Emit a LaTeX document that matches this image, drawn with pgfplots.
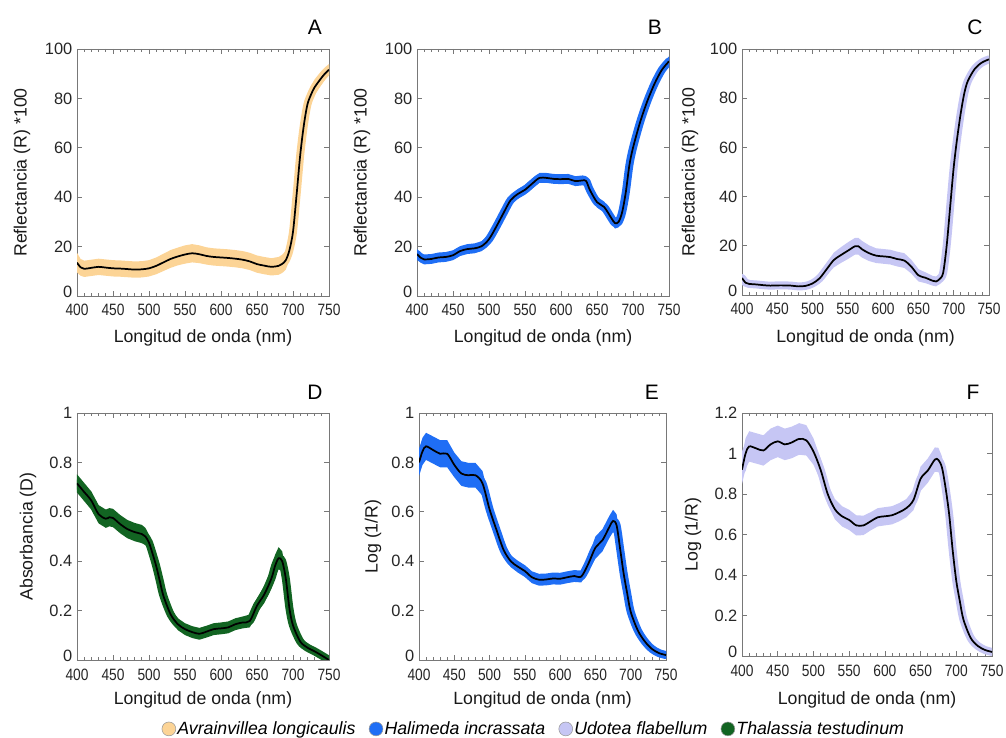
\documentclass[border=0pt]{standalone}
\usepackage{fontspec}
\setmainfont{Liberation Sans}
\usepackage{graphicx}
\usepackage{pgfplots}
\usepackage{pgfplotstable}
\pgfplotsset{compat=1.18}

\definecolor{avra}{RGB}{252,212,150}
\definecolor{hali}{RGB}{31,110,245}
\definecolor{udot}{RGB}{198,198,244}
\definecolor{thal}{RGB}{18,100,34}
\definecolor{axisgray}{RGB}{120,120,120}

% reflectance R*100: wavelength, mean, spread
\pgfplotstableread{
x m s
400 13.5 4.0
405 11.6 3.4
410 11.0 3.3
420 11.4 3.3
430 11.8 3.3
440 11.5 3.3
450 11.2 3.3
460 11.1 3.3
470 10.9 3.3
480 10.7 3.3
490 10.8 3.3
500 11.2 3.3
510 12.2 3.4
520 13.6 3.5
530 15.0 3.6
540 16.0 3.6
550 16.8 3.7
560 17.3 3.7
570 16.9 3.6
580 16.2 3.5
590 15.8 3.5
600 15.6 3.5
610 15.4 3.5
620 15.1 3.5
630 14.7 3.5
640 14.0 3.5
650 12.9 3.5
660 12.3 3.5
670 11.8 3.5
680 12.2 3.6
685 13.0 3.7
690 14.5 3.8
695 18.5 4.0
700 26.0 4.0
705 41.0 4.0
710 57.0 4.0
715 69.0 4.0
720 77.5 3.8
725 81.5 3.5
730 84.5 3.2
740 88.5 2.8
745 90.2 2.5
750 91.6 2.3
}\tabA

\pgfplotstableread{
x m s
400 17.0 2.0
405 15.5 2.0
410 14.8 2.0
420 15.0 2.0
430 15.6 2.0
440 15.8 2.0
450 16.5 2.0
460 18.2 2.0
470 19.0 2.0
480 19.3 2.0
490 20.2 2.0
500 23.0 2.0
510 28.0 2.0
520 33.5 2.0
530 38.8 2.0
540 41.3 2.0
550 43.0 2.0
560 45.5 2.0
570 47.8 2.0
580 47.8 2.0
590 47.4 2.0
600 47.3 2.0
610 47.4 2.0
620 46.5 2.0
630 46.8 2.0
635 46.5 2.0
640 43.0 2.0
650 38.0 2.2
660 36.0 2.2
670 31.5 2.2
675 29.5 2.2
680 30.0 2.2
685 34.0 2.0
690 42.0 2.0
695 53.0 2.0
700 60.0 2.0
710 70.5 2.0
720 79.0 2.0
730 86.0 2.0
740 91.5 2.0
750 95.0 2.0
}\tabB

\pgfplotstableread{
x m s
400 6.9 1.0
405 5.0 0.8
410 4.5 0.8
420 4.3 0.8
430 4.0 0.8
440 3.8 0.8
450 3.9 0.8
460 3.9 0.8
470 3.8 0.8
480 3.5 0.8
490 3.7 1.0
500 4.7 1.5
510 6.8 2.0
520 10.5 2.5
530 14.2 3.0
540 16.2 3.2
550 18.0 3.4
560 19.8 3.4
565 19.8 3.4
570 18.6 3.4
580 17.0 3.2
590 16.0 3.0
600 15.7 3.0
610 15.4 3.0
620 14.6 3.0
630 14.0 3.0
640 11.5 2.8
650 8.0 2.5
660 7.0 2.2
670 5.8 2.0
675 5.5 2.0
680 6.5 2.0
685 9.0 2.0
690 20.0 2.0
695 36.0 2.0
700 52.0 2.0
705 64.0 2.0
710 74.0 2.0
715 82.0 2.0
720 87.0 1.8
730 92.0 1.5
740 94.5 1.2
750 95.8 1.0
}\tabC

% absorbance and log(1/R)
\pgfplotstableread{
x m s
400 0.715 0.037
410 0.680 0.037
420 0.645 0.037
430 0.590 0.037
440 0.572 0.037
445 0.578 0.037
450 0.575 0.037
460 0.550 0.037
470 0.530 0.037
480 0.518 0.037
490 0.510 0.037
495 0.500 0.035
500 0.475 0.032
505 0.430 0.030
510 0.380 0.028
515 0.320 0.026
520 0.260 0.025
530 0.185 0.024
540 0.145 0.024
550 0.125 0.024
560 0.113 0.024
570 0.106 0.024
580 0.115 0.024
590 0.125 0.024
600 0.128 0.024
610 0.132 0.024
620 0.145 0.024
630 0.152 0.024
640 0.158 0.026
650 0.220 0.030
660 0.265 0.035
670 0.330 0.040
675 0.380 0.045
680 0.412 0.045
685 0.400 0.040
690 0.330 0.030
695 0.210 0.020
700 0.140 0.015
710 0.075 0.012
720 0.050 0.010
730 0.035 0.010
740 0.018 0.010
750 0.000 0.010
}\tabD

\pgfplotstableread{
x m s
400 0.800 0.055
405 0.845 0.055
410 0.865 0.055
420 0.850 0.055
430 0.835 0.055
440 0.835 0.055
450 0.790 0.050
460 0.755 0.050
470 0.748 0.050
480 0.748 0.050
490 0.715 0.050
500 0.610 0.040
510 0.525 0.035
520 0.445 0.030
530 0.400 0.024
540 0.378 0.024
550 0.360 0.024
560 0.335 0.024
570 0.325 0.024
580 0.326 0.024
590 0.330 0.024
600 0.329 0.024
610 0.335 0.024
620 0.340 0.024
630 0.338 0.024
640 0.390 0.030
650 0.455 0.045
660 0.485 0.045
670 0.540 0.045
675 0.563 0.045
680 0.545 0.045
685 0.450 0.035
690 0.350 0.030
695 0.270 0.020
700 0.195 0.015
710 0.120 0.015
720 0.075 0.015
730 0.045 0.015
740 0.028 0.015
750 0.020 0.015
}\tabE

\pgfplotstableread{
x m s
400 0.920 0.070
405 1.000 0.075
410 1.035 0.075
420 1.025 0.075
430 1.015 0.075
440 1.045 0.078
450 1.060 0.078
460 1.045 0.078
470 1.055 0.078
480 1.072 0.078
490 1.065 0.075
500 1.010 0.065
510 0.920 0.055
520 0.800 0.050
530 0.725 0.050
540 0.690 0.050
550 0.672 0.050
560 0.645 0.050
570 0.645 0.048
580 0.665 0.045
590 0.685 0.045
600 0.690 0.045
610 0.695 0.045
620 0.710 0.045
630 0.730 0.045
640 0.770 0.050
650 0.875 0.060
660 0.915 0.060
670 0.970 0.060
675 0.968 0.060
680 0.930 0.055
685 0.830 0.045
690 0.700 0.035
695 0.520 0.025
700 0.370 0.020
705 0.270 0.020
710 0.180 0.015
720 0.090 0.012
730 0.050 0.012
740 0.030 0.012
750 0.020 0.012
}\tabF

% shaded band (mean +- spread) stacked on its lower edge, halo, mean line
\newcommand{\spectrum}[2]{%
  \addplot[draw=none, fill=none, stack plots=y, forget plot] table[x=x, y expr=\thisrow{m}-\thisrow{s}] {#1};
  \addplot[draw=none, fill=#2, stack plots=y, forget plot] table[x=x, y expr=2*\thisrow{s}] {#1} \closedcycle;
  \addplot[#2, line width=6pt, line cap=round, line join=round, smooth, forget plot] table[x=x, y=m] {#1};
  \addplot[black, line width=1.3pt, smooth, forget plot] table[x=x, y=m] {#1};
}

\tikzset{letter/.style={font=\fontsize{15.7pt}{18pt}\selectfont, anchor=center}}

\pgfplotsset{
  panel/.style={
    scale only axis,
    clip mode=individual,
    anchor=south west,
    xmin=400, xmax=750,
    xtick={400,450,...,750},
    minor x tick num=4,
    tick align=inside,
    tick pos=both,
    major tick length=3.75pt,
    minor tick length=1.9pt,
    axis line style={color=axisgray, line width=0.6pt},
    tick style={color=axisgray, line width=0.5pt},
    /pgf/number format/assume math mode=true,
    ticklabel style={font=\fontsize{12.3pt}{14pt}\selectfont, text=black!85},
    xticklabel={\scalebox{0.84}[1]{\pgfmathprintnumber{\tick}}},
    label style={font=\fontsize{13.3pt}{15pt}\selectfont, text=black!90},
    xlabel={Longitud de onda (nm)},
    % the zero of the y axis sits a little above the first wavelength label
    extra y ticks={0},
    extra y tick style={yticklabel style={yshift=3pt}},
  },
}

\begin{document}
\begin{tikzpicture}
\path[use as bounding box] (0pt,0pt) rectangle (754.5pt,553.5pt);

% A
\begin{axis}[panel, at={(57.75pt,331.5pt)}, width=189pt, height=185.25pt,
  ymin=0, ymax=100, ytick={20,40,...,100},
  xticklabel style={yshift=-2.5pt},
  ylabel={Reflectancia (R) *100},
  ylabel style={at={(axis description cs:-0.218,0.5)}, anchor=center},
  xlabel style={at={(axis description cs:0.5,-0.170)}, anchor=center}]
  \spectrum{\tabA}{avra}
  \node[letter] at (axis description cs:0.944,1.089) {A};
\end{axis}

% B
\begin{axis}[panel, at={(312.75pt,331.5pt)}, width=189pt, height=185.25pt,
  ymin=0, ymax=100, ytick={20,40,...,100},
  xticklabel style={yshift=-2.5pt},
  ylabel={Reflectancia (R) *100},
  ylabel style={at={(axis description cs:-0.218,0.5)}, anchor=center},
  xlabel style={at={(axis description cs:0.5,-0.170)}, anchor=center}]
  \spectrum{\tabB}{hali}
  \node[letter] at (axis description cs:0.944,1.089) {B};
\end{axis}

% C
\begin{axis}[panel, at={(556.5pt,332.25pt)}, width=185.25pt, height=184.5pt,
  ymin=0, ymax=100, ytick={20,40,...,100},
  xticklabel style={yshift=-2.5pt},
  ylabel={Reflectancia (R) *100},
  ylabel style={at={(axis description cs:-0.21,0.5)}, anchor=center},
  xlabel style={at={(axis description cs:0.5,-0.173)}, anchor=center}]
  \spectrum{\tabC}{udot}
  \node[letter] at (axis description cs:0.943,1.089) {C};
\end{axis}

% D
\begin{axis}[panel, at={(57.75pt,58.5pt)}, width=189pt, height=185.25pt,
  ymin=0, ymax=1, ytick={0.2,0.4,...,1},
  xticklabel style={yshift=-3.5pt},
  ylabel={Absorbancia (D)},
  ylabel style={at={(axis description cs:-0.194,0.5)}, anchor=center},
  xlabel style={at={(axis description cs:0.5,-0.162)}, anchor=center}]
  \spectrum{\tabD}{thal}
  \node[letter] at (axis description cs:0.944,1.085) {D};
\end{axis}

% E
\begin{axis}[panel, at={(314.25pt,58.5pt)}, width=185.25pt, height=185.25pt,
  ymin=0, ymax=1, ytick={0.2,0.4,...,1},
  xticklabel style={yshift=-3.5pt},
  ylabel={Log (1/R)},
  ylabel style={at={(axis description cs:-0.186,0.5)}, anchor=center},
  xlabel style={at={(axis description cs:0.5,-0.162)}, anchor=center},
  legend columns=4,
  legend cell align=left,
  legend style={at={(0.4636,-0.279)}, anchor=center, draw=none, fill=none,
    inner xsep=0pt, inner ysep=0pt,
    font=\fontsize{13.3pt}{15pt}\selectfont\itshape,
    nodes={inner xsep=1pt},
    /tikz/every even column/.append style={column sep=9pt}}]
  \spectrum{\tabE}{hali}
  \node[letter] at (axis description cs:0.943,1.085) {E};
  \addlegendimage{legend image code/.code={\filldraw[fill=avra, draw=gray!80, line width=0.4pt] (0pt,0pt) circle (5.2pt);}}
  \addlegendentry{Avrainvillea longicaulis}
  \addlegendimage{legend image code/.code={\filldraw[fill=hali, draw=gray!80, line width=0.4pt] (0pt,0pt) circle (5.2pt);}}
  \addlegendentry{Halimeda incrassata}
  \addlegendimage{legend image code/.code={\filldraw[fill=udot, draw=gray!80, line width=0.4pt] (0pt,0pt) circle (5.2pt);}}
  \addlegendentry{Udotea flabellum}
  \addlegendimage{legend image code/.code={\filldraw[fill=thal, draw=gray!80, line width=0.4pt] (0pt,0pt) circle (5.2pt);}}
  \addlegendentry{Thalassia testudinum}
\end{axis}

% F
\begin{axis}[panel, at={(556.5pt,61.5pt)}, width=187.5pt, height=182.25pt,
  ymin=0, ymax=1.2, ytick={0.2,0.4,...,1.2},
  xticklabel style={yshift=-3.5pt},
  ylabel={Log (1/R)},
  ylabel style={at={(axis description cs:-0.196,0.5)}, anchor=center},
  xlabel style={at={(axis description cs:0.5,-0.18)}, anchor=center}]
  \spectrum{\tabF}{udot}
  \node[letter] at (axis description cs:0.924,1.086) {F};
\end{axis}
\end{tikzpicture}
\end{document}
